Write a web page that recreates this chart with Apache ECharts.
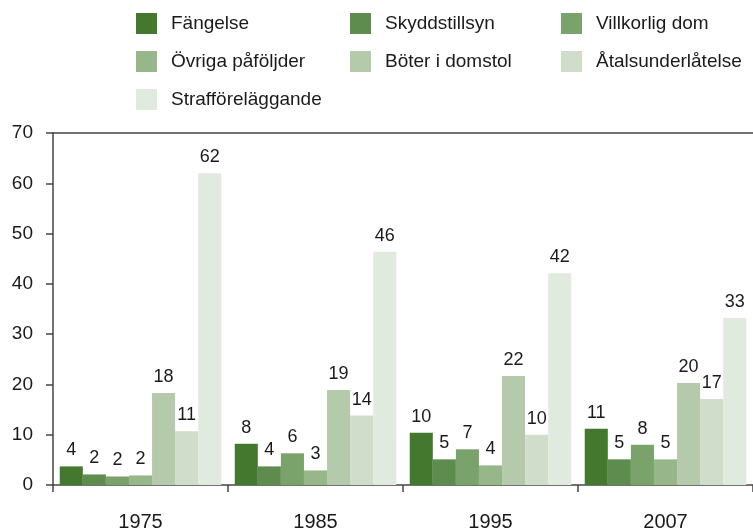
<!DOCTYPE html>
<html>
<head>
<meta charset="utf-8">
<script src="https://cdn.jsdelivr.net/npm/echarts@6/dist/echarts.min.js"></script>
<style>
html,body{margin:0;padding:0;background:#fff;}
#c{width:753px;height:532px;}
</style>
</head>
<body>
<div id="c"></div>
<script>
var categories = ['1975', '1985', '1995', '2007'];
var seriesNames = ['Fängelse', 'Skyddstillsyn', 'Villkorlig dom', 'Övriga påföljder', 'Böter i domstol', 'Åtalsunderlåtelse', 'Strafföreläggande'];
var fangelse = [3.7, 8.2, 10.4, 11.2];
var skyddstillsyn = [2.1, 3.7, 5.1, 5.1];
var villkorlig = [1.7, 6.3, 7.1, 8.0];
var ovriga = [1.9, 2.9, 3.9, 5.1];
var boter = [18.3, 18.9, 21.7, 20.3];
var atalsunderlatelse = [10.7, 13.8, 10.0, 17.1];
var strafforelaggande = [62.0, 46.4, 42.1, 33.2];
var yTicks = [0, 10, 20, 30, 40, 50, 60, 70];

var colors = ['#44782f', '#5e8c4f', '#7aa36b', '#97b68a', '#b5caab', '#d0ddcb', '#e0eadf'];
var values = [fangelse, skyddstillsyn, villkorlig, ovriga, boter, atalsunderlatelse, strafforelaggande];
var FONT = '"Liberation Sans", Arial, Helvetica, sans-serif';

var series = seriesNames.map(function (n, i) {
  return {
    name: n,
    type: 'bar',
    data: values[i],
    barGap: '0%',
    barCategoryGap: '7.7%',
    itemStyle: { color: colors[i] },
    label: {
      show: true,
      position: 'top',
      distance: 7,
      color: '#1a1a1a',
      fontSize: 18,
      fontFamily: FONT,
      formatter: function (p) { return Math.round(p.value); }
    },
    animation: false
  };
});

function legendCol(names, left) {
  return {
    orient: 'vertical',
    left: left,
    top: 13,
    padding: 0,
    itemWidth: 21,
    itemHeight: 21,
    itemGap: 17,
    icon: 'rect',
    selectedMode: false,
    data: names,
    textStyle: { fontSize: 19, fontFamily: FONT, color: '#1a1a1a', padding: [0, 0, 0, 9], lineHeight: 21 }
  };
}

var chart = echarts.init(document.getElementById('c'), null, { renderer: 'canvas' });
chart.setOption({
  animation: false,
  color: colors,
  legend: [
    legendCol([seriesNames[0], seriesNames[3], seriesNames[6]], 136),
    legendCol([seriesNames[1], seriesNames[4]], 350),
    legendCol([seriesNames[2], seriesNames[5]], 561)
  ],
  grid: { left: 53, right: 0, top: 133, bottom: 45, containLabel: false },
  xAxis: [{
    type: 'category',
    data: categories,
    axisLine: { lineStyle: { color: '#444', width: 1.5 } },
    axisTick: { show: true, length: 7, inside: false, alignWithLabel: false, lineStyle: { color: '#444', width: 1.5 } },
    axisLabel: { margin: 27, fontSize: 20, fontFamily: FONT, color: '#1a1a1a' }
  }, {
    type: 'category',
    data: categories,
    position: 'top',
    axisLine: { lineStyle: { color: '#444', width: 1.5 } },
    axisTick: { show: false },
    axisLabel: { show: false }
  }],
  yAxis: {
    type: 'value',
    min: yTicks[0],
    max: yTicks[yTicks.length - 1],
    interval: 10,
    axisLine: { show: true, lineStyle: { color: '#444', width: 1.5 } },
    axisTick: { show: true, length: 7, lineStyle: { color: '#444', width: 1.5 } },
    splitLine: { show: false },
    axisLabel: { margin: 20, fontSize: 19, fontFamily: FONT, color: '#1a1a1a' }
  },
  series: series
});
</script>
</body>
</html>
